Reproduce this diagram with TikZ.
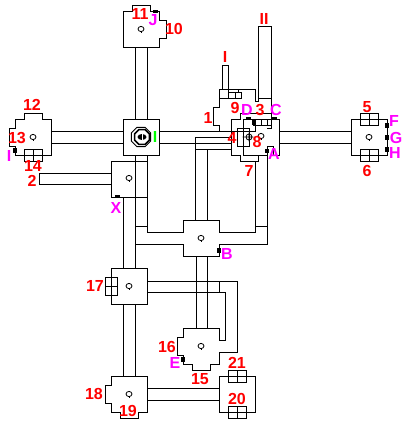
\documentclass[tikz,border=0pt]{standalone}
\usepackage{fontspec}
\setmainfont{Liberation Sans}
\definecolor{labmag}{RGB}{255,0,255}
\definecolor{labgrn}{RGB}{0,255,0}
\definecolor{labred}{RGB}{255,0,0}
\tikzset{
  wall/.style={draw=black,line width=1pt,line join=miter,line cap=rect},
  lab/.style={inner sep=0pt,font=\fontsize{16}{16}\selectfont\bfseries,text=labred},
  mag/.style={lab,text=labmag},
  grn/.style={lab,text=labgrn},
  doormark/.style={fill=black,draw=none},
  rm/.pic={\draw[black,line width=0.8pt] (0,0) ellipse (3pt and 2.6pt); \draw[black,line width=0.8pt] (0,2.6) -- (0,4);}
}
\begin{document}
\begin{tikzpicture}[x=1pt,y=-1pt]
\useasboundingbox[fill=white] (0,0) rectangle (402,429);
% corridors
\draw[wall] (135,47)--(135,119) (147,47)--(147,119);
\draw[wall] (51,131)--(123,131) (51,143)--(123,143);
\draw[wall] (159,131)--(231,131) (159,143)--(231,143);
\draw[wall] (195,137)--(231,137) (207,149)--(231,149);
\draw[wall] (195,149)--(207,149);
\draw[wall] (195,220)--(195,137) (207,220)--(207,149);
\draw[wall] (135,155)--(135,268) (147,155)--(147,232)--(183,232)--(183,220)--(219,220)--(219,232)--(255,232)--(255,161);
\draw[wall] (135,226)--(147,226) (255,226)--(267,226);
\draw[wall] (123,197)--(123,268);
\draw[wall] (135,244)--(183,244)--(183,256)--(219,256)--(219,244)--(267,244)--(267,155);
\draw[wall] (196,256)--(196,328) (207,256)--(207,328);
\draw[wall] (39,173)--(111,173) (39,184)--(111,184) (39,173)--(39,184);
\draw[wall] (147,281)--(237,281)--(237,352)--(219,352);
\draw[wall] (147,292)--(225,292)--(225,340)--(219,340);
\draw[wall] (219,281)--(219,292);
\draw[wall] (123,304)--(123,376) (135,304)--(135,376);
\draw[wall] (147,388)--(219,388) (147,400)--(219,400);
\draw[wall] (279,131)--(351,131) (279,143)--(351,143);
% rooms
\draw[wall] (123,119) rectangle (159,155);
\draw[wall] (123,47)--(123,11)--(132,11)--(132,5)--(150,5)--(150,11)--(159,11)--(159,20)--(166,20)--(166,38)--(159,38)--(159,47)--cycle;
\draw[wall] (51,119)--(42,119)--(42,113)--(24,113)--(24,119)--(15,119)--(15,128)--(9,128)--(9,146)--(15,146)--(15,155)--(51,155)--cycle;
\draw[wall] (24,149) rectangle (42,161) (33,149)--(33,161) (24,155)--(42,155);
\draw[wall] (147,161)--(111,161)--(111,197)--(147,197);
\draw[wall] (351,119) rectangle (387,155);
\draw[wall] (360,113) rectangle (378,125) (369,113)--(369,125);
\draw[wall] (360,149) rectangle (378,161) (369,149)--(369,161);
\draw[wall] (111,268) rectangle (147,304);
\draw[wall] (105,277) rectangle (117,295) (105,286)--(117,286);
\draw[wall] (219,340)--(219,328)--(183,328)--(183,337)--(177,337)--(177,355)--(183,355)--(183,364)--(192,364)--(192,370)--(210,370)--(210,364)--(219,364)--(219,352);
\draw[wall] (120,412)--(111,412)--(111,403)--(105,403)--(105,385)--(111,385)--(111,376)--(147,376)--(147,412)--(138,412)--(138,418)--(120,418)--cycle;
\draw[wall] (219,376) rectangle (255,412);
\draw[wall] (228,370) rectangle (246,382) (237,370)--(237,382);
\draw[wall] (228,406) rectangle (246,418) (237,406)--(237,418);
% keep room: room 1 and corridors I, II
\draw[wall] (222,89)--(222,65)--(228,65)--(228,89);
\draw[wall] (219,131)--(219,125)--(213,125)--(213,107)--(219,107)--(219,89)--(255,89)--(255,101)--(258,101)--(258,26)--(271,26)--(271,128)--(267,128);
\draw[wall] (258,98)--(271,98);
\draw[wall] (219,98)--(241,98)--(241,92)--(228,92) (228,89)--(228,98) (235,92)--(235,98) (238,89)--(238,92);
% rooms 3,4,7,8
\draw[wall] (240,119)--(231,119)--(231,155)--(240,155)--(240,161)--(258,161)--(258,155)--(243,155)--(243,119)--(279,119)--(279,155)--(273,155)--(273,146)--(267,146)--(267,155)--(258,155);
\draw[wall] (240,119)--(240,113)--(271,113);
\draw[wall] (255,119)--(255,131)--(231,131);
\draw[wall] (253,125)--(271,125) (261,119)--(261,125) (267,119)--(267,125);
\draw[wall] (237,128) rectangle (249,146);
\draw[wall,line width=0.8pt] (249,137) circle (3pt) (243,137)--(253,137) (249,133)--(249,141);
% room markers
\pic at (141,29) {rm};
\pic at (33,137) {rm};
\pic at (129,178) {rm};
\pic at (369,137) {rm};
\pic at (261,136) {rm};
\pic at (201,238) {rm};
\pic at (129,286) {rm};
\pic at (201,346) {rm};
\pic at (129,394) {rm};
% centre icon
\draw[black,line width=1pt,fill=white] (141,137) +(22.5:10.5) -- +(67.5:10.5) -- +(112.5:10.5) -- +(157.5:10.5) -- +(202.5:10.5) -- +(247.5:10.5) -- +(292.5:10.5) -- +(337.5:10.5) -- cycle;
\draw[black,line width=1.5pt] (142,137) +(22.5:8) -- +(67.5:8) -- +(112.5:8) -- +(157.5:8) -- +(202.5:8) -- +(247.5:8) -- +(292.5:8) -- +(337.5:8) -- cycle;
\fill[black] (142,137) ellipse (4.5pt and 3pt);
\draw[white,line width=0.8pt] (142,134)--(142,140);
% door marks
\fill[doormark] (153,9.5) rectangle (158,12.5);
\fill[doormark] (246,117) rectangle (251,120);
\fill[doormark] (272,117) rectangle (277,120);
\fill[doormark] (252,119) rectangle (256,125);
\fill[doormark] (265,149) rectangle (269,153);
\fill[doormark] (385,123) rectangle (389,127.5);
\fill[doormark] (385,135) rectangle (389,139.5);
\fill[doormark] (385,147) rectangle (389,151.5);
\fill[doormark] (13,148) rectangle (17,152.5);
\fill[doormark] (115,194.5) rectangle (120,198);
\fill[doormark] (217,248) rectangle (221,253);
\fill[doormark] (181,357) rectangle (185,362);
% labels
\node[lab] (n11) at (140,14) {11};
\node[mag] (nJ) at (153,20) {J};
\node[lab] (n10) at (174,29) {10};
\node[lab] (n12) at (32,105) {12};
\node[lab] (n13) at (17,138) {13};
\node[mag] (nIa) at (9,156) {I};
\node[lab] (n14) at (33,166.3) {14};
\node[lab] (n2) at (32,180.7) {2};
\node[mag] (nX) at (116,208) {X};
\node[grn] (nIb) at (155,137) {I};
\node[lab] (nI) at (225,57) {I};
\node[lab] (nII) at (264,19) {II};
\node[lab] (n1) at (208,118) {1};
\node[lab] (n9) at (235,108) {9};
\node[mag] (nD) at (247,110) {D};
\node[lab] (n3) at (260,110) {3};
\node[mag] (nC) at (276,110) {C};
\node[lab] (n5) at (367,107) {5};
\node[mag] (nF) at (394,121) {F};
\node[mag] (nG) at (396,138) {G};
\node[mag] (nH) at (395,153) {H};
\node[lab] (n4) at (232,138) {4};
\node[lab] (n8) at (257,142) {8};
\node[mag] (nA) at (274,154) {A};
\node[lab] (n7) at (249,171) {7};
\node[lab] (n6) at (367,171) {6};
\node[mag] (nB) at (227,254) {B};
\node[lab] (n17) at (95,286) {17};
\node[lab] (n16) at (167,347) {16};
\node[mag] (nE) at (175,363) {E};
\node[lab] (n15) at (200,379) {15};
\node[lab] (n21) at (237,363) {21};
\node[lab] (n20) at (237,399) {20};
\node[lab] (n18) at (94,394) {18};
\node[lab] (n19) at (128,411) {19};
\end{tikzpicture}
\end{document}
